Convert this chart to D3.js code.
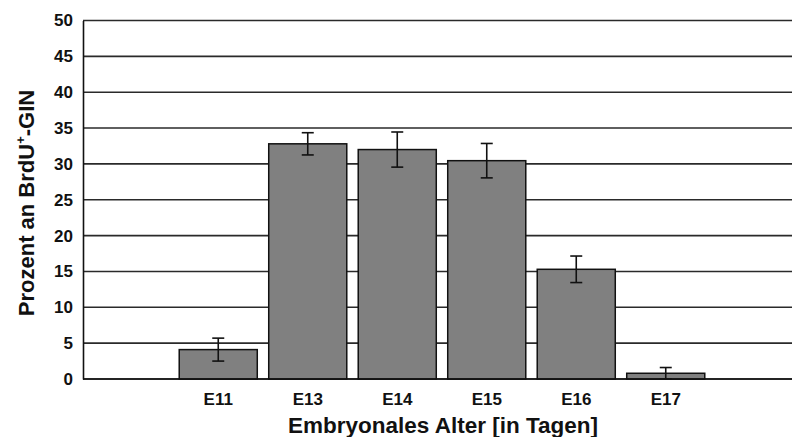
<!DOCTYPE html>
<html>
  <head lang="de">
    <meta charset="utf-8">
    <title>BrdU+ GIN</title>
    <script type="text/javascript" src="https://cdn.jsdelivr.net/npm/d3@7"></script>
    <style>
      body { margin: 0; background: #fff; }
      text { font-family: "Liberation Sans", Arial, sans-serif; font-weight: bold; fill: #111; }
    </style>
  </head>
  <body>
    <script type="text/javascript">

      // data
      var categories = ["", "E11", "E13", "E14", "E15", "E16", "E17", " "];
      var values = [null, 4.1, 32.8, 32.0, 30.45, 15.3, 0.8];
      var errors = [null, 1.6, 1.55, 2.45, 2.4, 1.85, 0.8];
      var yTicks = [0, 5, 10, 15, 20, 25, 30, 35, 40, 45, 50];

      var width = 792, height = 437;
      var margin = {top: 20.5, left: 84, bottom: 58};
      var plotH = height - margin.top - margin.bottom;

      var svg = d3.select("body").append("svg")
          .attr("width", width)
          .attr("height", height);

      var x = d3.scaleBand()
          .domain(categories)
          .range([margin.left, margin.left + 8 * 89.5])
          .paddingInner(0.128)
          .paddingOuter(0.064);

      var y = d3.scaleLinear()
          .domain([0, 50])
          .range([margin.top + plotH, margin.top]);

      // gridlines
      svg.append("g")
          .selectAll("line")
          .data(yTicks)
          .enter()
          .append("line")
          .attr("x1", margin.left - 1)
          .attr("x2", width)
          .attr("y1", function(d) { return y(d); })
          .attr("y2", function(d) { return y(d); })
          .attr("stroke", "#2a2a2a")
          .attr("stroke-width", 1.6);

      // y axis
      var yAxis = svg.append("g")
          .attr("transform", "translate(" + (margin.left - 1) + ",0)")
          .call(d3.axisLeft(y).tickValues(yTicks).tickSize(0).tickPadding(10));
      yAxis.select(".domain").attr("stroke", "#111").attr("stroke-width", 1.6);
      yAxis.selectAll("text").style("font-size", "17px").style("font-family", "Liberation Sans, Arial, sans-serif");

      var data = categories.map(function(c, i) {
        return {cat: c, value: values[i], err: errors[i]};
      }).filter(function(d) { return d.value != null; });

      // bars
      svg.selectAll("rect.bar")
          .data(data)
          .enter()
          .append("rect")
          .attr("class", "bar")
          .attr("x", function(d) { return x(d.cat); })
          .attr("y", function(d) { return y(d.value); })
          .attr("width", x.bandwidth())
          .attr("height", function(d) { return y(0) - y(d.value); })
          .attr("fill", "#808080")
          .attr("stroke", "#111")
          .attr("stroke-width", 1.5);

      // error bars
      var eb = svg.append("g").attr("stroke", "#111").attr("stroke-width", 1.6);
      data.forEach(function(d) {
        var cx = x(d.cat) + x.bandwidth() / 2;
        eb.append("line").attr("x1", cx).attr("x2", cx)
          .attr("y1", y(d.value + d.err)).attr("y2", y(d.value - d.err));
        eb.append("line").attr("x1", cx - 6).attr("x2", cx + 6)
          .attr("y1", y(d.value + d.err)).attr("y2", y(d.value + d.err));
        eb.append("line").attr("x1", cx - 6).attr("x2", cx + 6)
          .attr("y1", y(d.value - d.err)).attr("y2", y(d.value - d.err));
      });

      // x axis
      var xAxis = svg.append("g")
          .attr("transform", "translate(0," + y(0) + ")")
          .call(d3.axisBottom(x).tickSize(0).tickPadding(14));
      xAxis.select(".domain").remove();
      xAxis.selectAll("text").style("font-size", "17px").style("font-family", "Liberation Sans, Arial, sans-serif");
      svg.append("line")
          .attr("x1", margin.left - 1).attr("x2", width)
          .attr("y1", y(0)).attr("y2", y(0))
          .attr("stroke", "#111").attr("stroke-width", 1.6);

      // axis titles
      svg.append("text")
          .attr("x", 443)
          .attr("y", 433)
          .attr("text-anchor", "middle")
          .style("font-size", "22.5px")
          .text("Embryonales Alter [in Tagen]");

      var yt = svg.append("text")
          .attr("transform", "translate(34,203) rotate(-90)")
          .attr("text-anchor", "middle")
          .style("font-size", "22px");
      yt.append("tspan").text("Prozent an BrdU");
      yt.append("tspan").attr("dy", -9).style("font-size", "13px").text("+");
      yt.append("tspan").attr("dy", 9).text("-GIN");

    </script>
  </body>
</html>
